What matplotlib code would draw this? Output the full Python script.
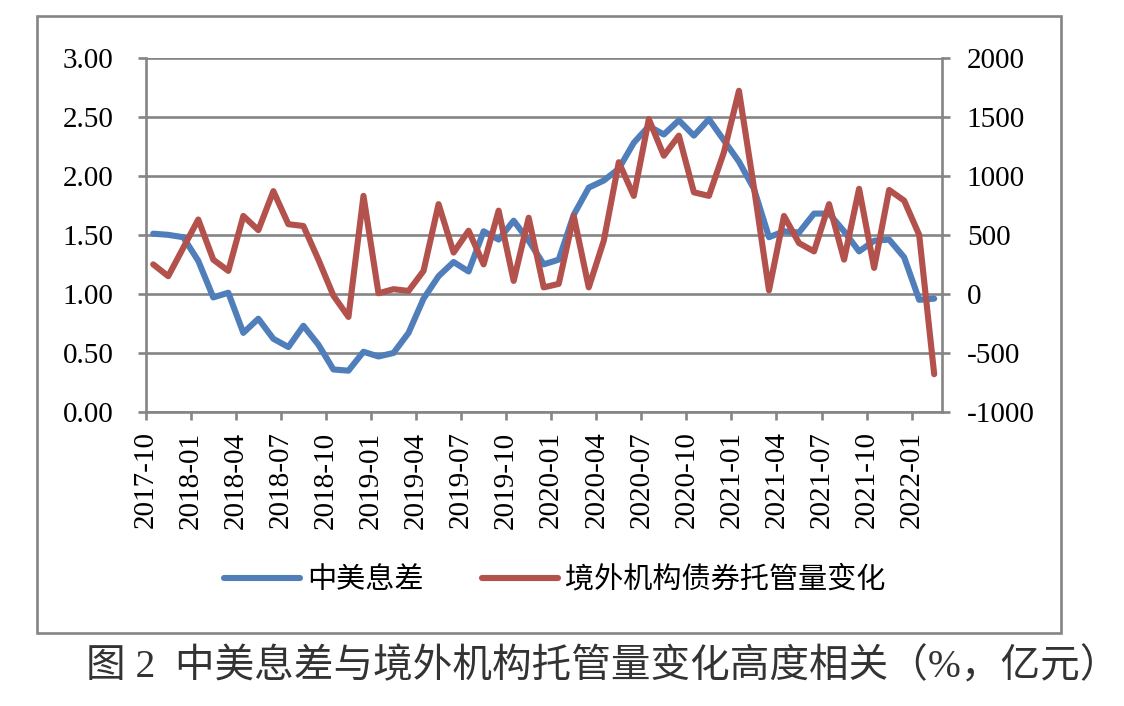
import numpy as np
import matplotlib
matplotlib.use("Agg")
import matplotlib.pyplot as plt
from matplotlib.patches import Rectangle
from matplotlib.lines import Line2D
from matplotlib.ticker import FormatStrFormatter

# ---- data (monthly, 2017-10 .. 2022-02) ----
spread = [1.51, 1.50, 1.48, 1.28, 0.97, 1.01, 0.67, 0.79, 0.62, 0.55,
          0.73, 0.57, 0.36, 0.35, 0.51, 0.47, 0.50, 0.67, 0.96, 1.15,
          1.27, 1.19, 1.53, 1.46, 1.62, 1.45, 1.25, 1.29, 1.67, 1.90,
          1.96, 2.06, 2.28, 2.42, 2.35, 2.47, 2.34, 2.48, 2.30, 2.12,
          1.89, 1.48, 1.53, 1.52, 1.68, 1.68, 1.53, 1.36, 1.45, 1.46,
          1.31, 0.95, 0.96]
custody = [250, 150, 390, 630, 290, 195, 660, 540, 870, 590,
           575, 290, -15, -195, 830, 5, 40, 25, 195, 760,
           350, 535, 250, 705, 110, 645, 55, 85, 660, 55,
           450, 1115, 830, 1480, 1170, 1340, 860, 830, 1200, 1720,
           900, 30, 660, 430, 360, 760, 290, 890, 220, 880,
           790, 500, -680]
tick_labels = ["2017-10", "2018-01", "2018-04", "2018-07", "2018-10",
               "2019-01", "2019-04", "2019-07", "2019-10", "2020-01",
               "2020-04", "2020-07", "2020-10", "2021-01", "2021-04",
               "2021-07", "2021-10", "2022-01"]
series_names = ["中美息差", "境外机构债券托管量变化"]
caption = "图 2  中美息差与境外机构托管量变化高度相关（%，亿元）"

BLUE = "#4F7EBB"
RED = "#B3514C"
GRAY = "#858585"

plt.rcParams['font.family'] = ['Liberation Serif', 'Noto Sans CJK SC']
plt.rcParams['axes.unicode_minus'] = False

W, H = 1124, 706
fig = plt.figure(figsize=(W / 100, H / 100), dpi=100)

left, right, top, bottom = 145.7, 941.7, 57.7, 412.0
ax = fig.add_axes([left / W, 1 - bottom / H, (right - left) / W, (bottom - top) / H])
ax2 = ax.twinx()

n = len(spread)
x = np.arange(n) + 0.5
ax.plot(x, spread, color=BLUE, lw=4.4, solid_joinstyle='round', solid_capstyle='round', zorder=3)
ax2.plot(x, custody, color=RED, lw=4.4, solid_joinstyle='round', solid_capstyle='round', zorder=3)

ax.set_xlim(0, n)
ax.set_ylim(0, 3)
ax2.set_ylim(-1000, 2000)

ax.set_yticks(np.arange(0, 3.01, 0.5))
ax.yaxis.set_major_formatter(FormatStrFormatter('%.2f'))
ax2.set_yticks(np.arange(-1000, 2001, 500))
ax.set_xticks(np.arange(0, 3 * len(tick_labels), 3))
ax.set_xticklabels(tick_labels, rotation=90)

ax.yaxis.grid(True, color=GRAY, lw=1.9)
ax.set_axisbelow(True)

for a in (ax, ax2):
    a.spines['top'].set_visible(False)
ax.spines['right'].set_visible(False)
ax2.spines['left'].set_visible(False)
ax2.spines['bottom'].set_visible(False)
for sp in (ax.spines['left'], ax.spines['bottom'], ax2.spines['right']):
    sp.set_color(GRAY)
    sp.set_linewidth(1.9)

ax.tick_params(axis='y', direction='out', length=6, width=1.9, color=GRAY,
               labelsize=21, pad=17, labelcolor='black')
ax.tick_params(axis='x', direction='out', length=6, width=1.9, color=GRAY,
               labelsize=21, pad=8, labelcolor='black')
ax2.tick_params(axis='y', direction='out', length=6, width=1.9, color=GRAY,
                labelsize=21, pad=12, labelcolor='black')

# outer frame
fig.add_artist(Rectangle((37 / W, 1 - 633 / H), (1061 - 37) / W, (633 - 16) / H,
                         transform=fig.transFigure, fill=False, ec=GRAY, lw=1.9))

# legend
handles = [Line2D([], [], color=BLUE, lw=4.4, solid_capstyle='round'),
           Line2D([], [], color=RED, lw=4.4, solid_capstyle='round')]
fig.legend(handles, series_names, loc='center', bbox_to_anchor=(555 / W, 1 - 580 / H),
           ncol=2, frameon=False, prop={'family': ['Noto Sans CJK SC'], 'size': 21},
           handlelength=2.6, handletextpad=0.25, columnspacing=2.0)

fig.text(86 / W, 1 - 667 / H, caption, fontsize=28.5, color='#333333', va='center', ha='left',
         family=['Liberation Serif', 'Noto Sans CJK SC'])

fig.savefig("out.png", dpi=100)
